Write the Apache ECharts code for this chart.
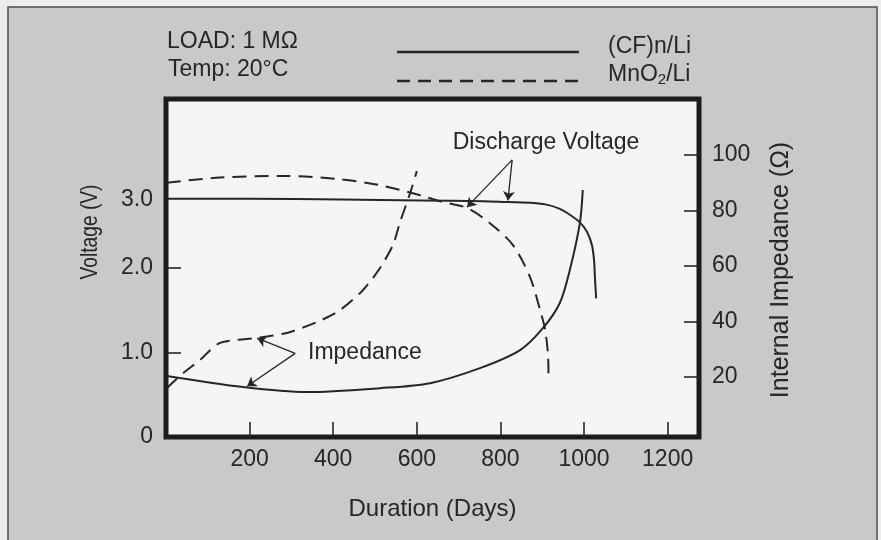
<!DOCTYPE html>
<html>
<head>
<meta charset="utf-8">
<script src="https://cdn.jsdelivr.net/npm/echarts@6/dist/echarts.min.js"></script>
<style>
    html, body { margin: 0; padding: 0; background: #ececec; }
    #chart { width: 881px; height: 540px; }
</style>
</head>
<body>
<div id="chart"></div>
<script>
'use strict';

// (CF)n/Li discharge voltage (V) vs days
var cfVoltDays = [2, 200, 420, 608, 760, 816, 880, 911, 942, 966, 990, 1007, 1019, 1024, 1026, 1029];
var cfVolt     = [2.82, 2.82, 2.81, 2.80, 2.79, 2.78, 2.77, 2.75, 2.70, 2.63, 2.54, 2.43, 2.27, 2.09, 1.89, 1.64];

// MnO2/Li discharge voltage (V) vs days
var mnVoltDays = [2, 129, 285, 416, 512, 608, 655, 720, 775, 830, 871, 895, 907, 914, 915];
var mnVolt     = [3.01, 3.07, 3.09, 3.05, 2.98, 2.86, 2.79, 2.71, 2.53, 2.27, 1.89, 1.50, 1.27, 0.95, 0.67];

// (CF)n/Li internal impedance (ohm) vs days
var cfOhmDays = [2, 184, 337, 512, 632, 751, 847, 902, 942, 966, 990, 997];
var cfOhm     = [20.4, 16.4, 14.6, 16.0, 17.8, 23.2, 29.7, 37.7, 46.7, 58.6, 75.5, 87.4];

// MnO2/Li internal impedance (ohm) vs days
var mnOhmDays = [2, 41, 81, 129, 218, 289, 361, 416, 471, 512, 543, 560, 584, 600];
var mnOhm     = [16.0, 21.4, 26.1, 32.3, 34.1, 35.9, 39.8, 44.1, 51.3, 59.3, 67.6, 75.9, 86.3, 94.2];

// tick labels
var dayTicks = [200, 400, 600, 800, 1000, 1200];
var ohmTicks = [20, 40, 60, 80, 100];
var voltTicks = [1, 2];
// the figure prints "3.0" level with the flat (CF)n/Li line, not at the 3 V mark
var voltLabelAt = [0, 1, 2, 2.81];
var voltLabels  = ['0', '1.0', '2.0', '3.0'];

// annotation arrows, in days / volts
var dischargeFrom = [828, 3.28];
var dischargeTo   = [[818, 2.80], [720, 2.72]];
var impedanceFrom = [309, 0.99];
var impedanceTo   = [[218, 1.17], [194, 0.60]];

var ink = '#262626';
var font = '"Liberation Sans", Arial, Helvetica, sans-serif';

var zip = function (xs, ys) {
    var res = [];
    for (var i = 0; i < xs.length; i++) {
        res.push([xs[i], ys[i]]);
    }
    return res;
};

var arrows = function (from, tos) {
    return tos.map(function (to) {
        return [{ coord: from }, { coord: to }];
    });
};

var arrowStyle = {
    silent: true,
    animation: false,
    symbol: ['none', 'arrow'],
    symbolSize: 9,
    label: { show: false },
    lineStyle: { color: ink, width: 1.3, type: 'solid' },
    emphasis: { disabled: true }
};

var tickStyle = {
    inside: true,
    length: 15,
    lineStyle: { color: ink, width: 1.6 }
};

var labelStyle = {
    color: ink,
    fontSize: 23,
    fontFamily: font,
    margin: 13,
    formatter: function (v) { return String(v); }
};

var myChart = echarts.init(document.getElementById('chart'));

var option = {
    backgroundColor: 'transparent',
    animation: false,
    textStyle: { fontFamily: font },
    grid: {
        left: 166,
        right: 182,
        top: 99,
        bottom: 103,
        show: true,
        backgroundColor: '#f5f5f3',
        borderColor: '#1c1c1c',
        borderWidth: 5
    },
    xAxis: {
        type: 'value',
        min: 0,
        max: 1275,
        name: 'Duration (Days)',
        nameLocation: 'middle',
        nameGap: 60,
        nameTextStyle: { color: ink, fontSize: 24, fontFamily: font },
        axisLine: { show: false },
        splitLine: { show: false },
        axisTick: Object.assign({ customValues: dayTicks }, tickStyle),
        axisLabel: Object.assign({}, labelStyle, { customValues: dayTicks, margin: 11 })
    },
    yAxis: [
        {
            type: 'value',
            min: 0,
            max: 4,
            position: 'left',
            axisLine: { show: false },
            splitLine: { show: false },
            axisTick: Object.assign({ customValues: voltTicks }, tickStyle),
            axisLabel: Object.assign({}, labelStyle, {
                customValues: voltLabelAt,
                formatter: function (v) {
                    var i = voltLabelAt.indexOf(v);
                    return i >= 0 ? voltLabels[i] : '';
                }
            })
        },
        {
            type: 'value',
            min: -1.6,
            max: 120.2,
            position: 'right',
            axisLine: { show: false },
            splitLine: { show: false },
            axisTick: Object.assign({ customValues: ohmTicks }, tickStyle),
            axisLabel: Object.assign({}, labelStyle, { customValues: ohmTicks })
        }
    ],
    graphic: [
        {
            type: 'rect',
            z: -10,
            shape: { x: 8, y: 7, width: 869, height: 545 },
            style: { fill: '#c9c9c9', stroke: '#4d4d4d', lineWidth: 1.5 }
        },
        {
            type: 'text', x: 167, y: 42,
            style: { text: 'LOAD: 1 M\u03A9', fill: ink, fontSize: 23, fontFamily: font, verticalAlign: 'middle' }
        },
        {
            type: 'text', x: 168, y: 70,
            style: { text: 'Temp: 20\u00B0C', fill: ink, fontSize: 23, fontFamily: font, verticalAlign: 'middle' }
        },
        {
            type: 'line',
            shape: { x1: 397, y1: 52, x2: 579, y2: 52 },
            style: { stroke: ink, lineWidth: 2.5 }
        },
        {
            type: 'line',
            shape: { x1: 397, y1: 81, x2: 580, y2: 81 },
            style: { stroke: ink, lineWidth: 2.5, lineDash: [13, 8] }
        },
        {
            type: 'text', x: 608, y: 47,
            style: { text: '(CF)n/Li', fill: ink, fontSize: 23, fontFamily: font, verticalAlign: 'middle' }
        },
        {
            type: 'text', x: 608, y: 75,
            style: {
                text: 'MnO{s|2}/Li',
                fill: ink,
                fontSize: 23,
                fontFamily: font,
                verticalAlign: 'middle',
                rich: { s: { fontSize: 15, fontFamily: font, fill: ink, padding: [10, 0, 0, 0] } }
            }
        },
        {
            type: 'text', x: 546, y: 143,
            style: { text: 'Discharge Voltage', fill: ink, fontSize: 23, fontFamily: font, align: 'center', verticalAlign: 'middle' }
        },
        {
            type: 'text', x: 308, y: 353,
            style: { text: 'Impedance', fill: ink, fontSize: 23, fontFamily: font, verticalAlign: 'middle' }
        },
        {
            type: 'text', x: 90, y: 232, rotation: Math.PI / 2, scaleX: 0.8,
            style: { text: 'Voltage (V)', fill: ink, fontSize: 24, fontFamily: font, align: 'center', verticalAlign: 'middle' }
        },
        {
            type: 'text', x: 781, y: 270, rotation: Math.PI / 2,
            style: { text: 'Internal Impedance (\u03A9)', fill: ink, fontSize: 25, fontFamily: font, align: 'center', verticalAlign: 'middle' }
        }
    ],
    series: [
        {
            name: '(CF)n/Li voltage',
            type: 'line',
            yAxisIndex: 0,
            data: zip(cfVoltDays, cfVolt),
            showSymbol: false,
            smooth: 0.3,
            lineStyle: { color: ink, width: 2 },
            markLine: Object.assign({ data: arrows(dischargeFrom, dischargeTo) }, arrowStyle)
        },
        {
            name: 'MnO2/Li voltage',
            type: 'line',
            yAxisIndex: 0,
            data: zip(mnVoltDays, mnVolt),
            showSymbol: false,
            smooth: 0.3,
            lineStyle: { color: ink, width: 2, type: [14, 8] },
            markLine: Object.assign({ data: arrows(impedanceFrom, impedanceTo) }, arrowStyle)
        },
        {
            name: '(CF)n/Li impedance',
            type: 'line',
            yAxisIndex: 1,
            data: zip(cfOhmDays, cfOhm),
            showSymbol: false,
            smooth: 0.3,
            lineStyle: { color: ink, width: 2 }
        },
        {
            name: 'MnO2/Li impedance',
            type: 'line',
            yAxisIndex: 1,
            data: zip(mnOhmDays, mnOhm),
            showSymbol: false,
            smooth: 0.25,
            lineStyle: { color: ink, width: 2, type: [14, 8] }
        }
    ]
};

myChart.setOption(option);
</script>
</body>
</html>
